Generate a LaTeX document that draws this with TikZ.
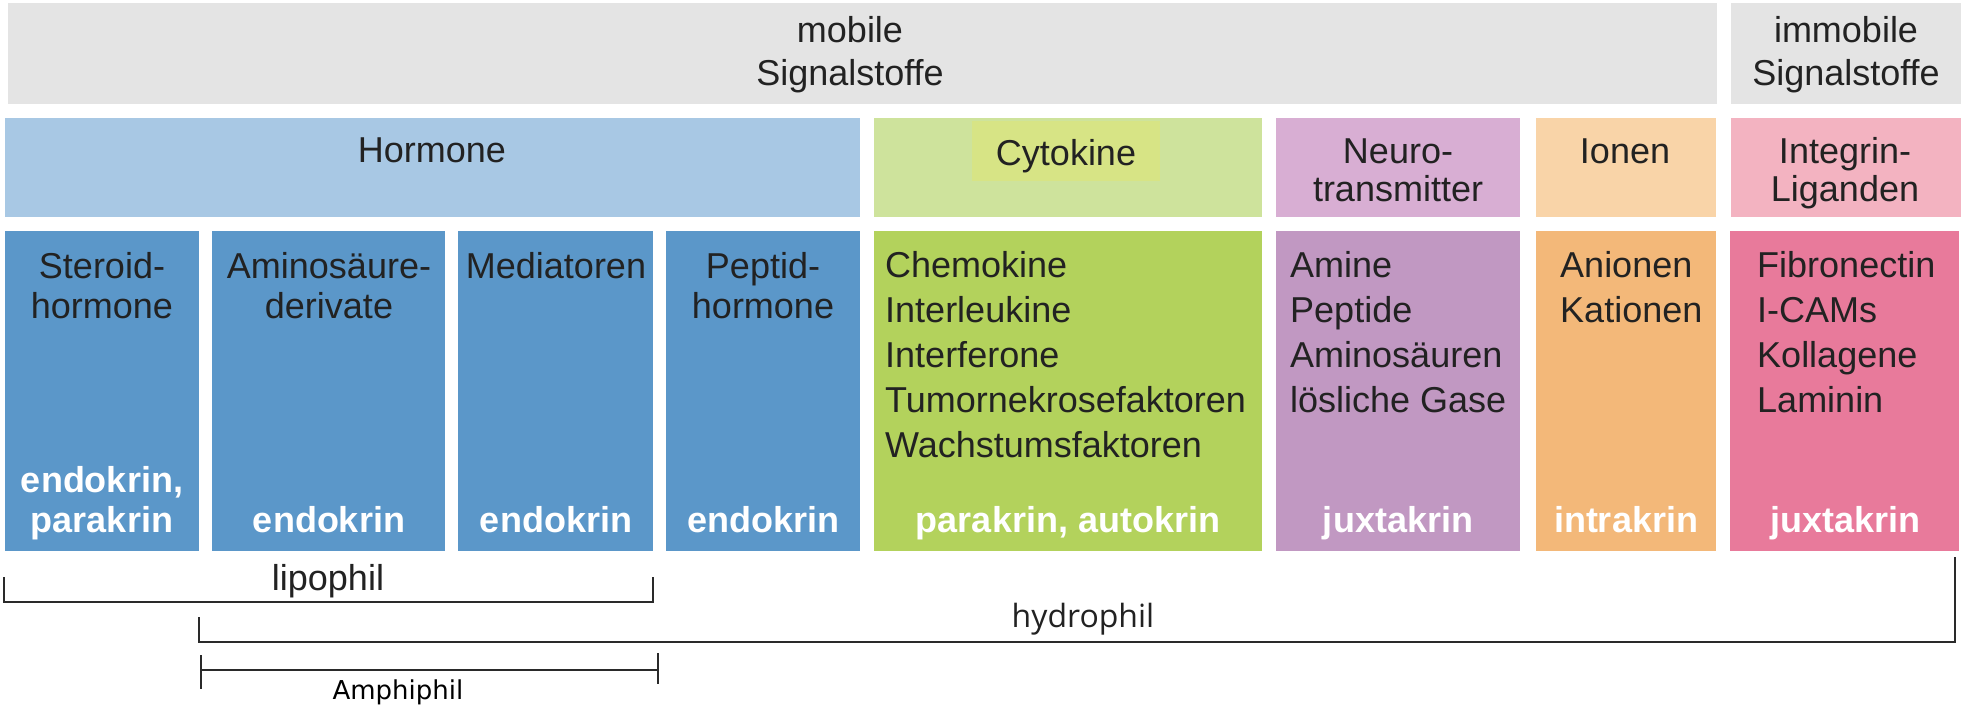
\documentclass[tikz,border=0pt]{standalone}
\usepackage{fontspec}
\setmainfont{Liberation Sans}
\newfontfamily\hydrofont{Open Sans}
\newfontfamily\handfont{DejaVu Sans}
\definecolor{cgray}{HTML}{E4E4E4}
\definecolor{cblueL}{HTML}{A8C8E4}
\definecolor{cblue}{HTML}{5B97C9}
\definecolor{cgreenL}{HTML}{CEE39C}
\definecolor{chigh}{HTML}{D7E485}
\definecolor{cgreen}{HTML}{B3D25C}
\definecolor{cpurpL}{HTML}{D8AED3}
\definecolor{cpurp}{HTML}{C198C2}
\definecolor{corgL}{HTML}{F9D4A8}
\definecolor{corg}{HTML}{F3B879}
\definecolor{cpinkL}{HTML}{F3B3C1}
\definecolor{cpink}{HTML}{E87A9B}
\definecolor{ctxt}{HTML}{222222}
\definecolor{cline}{HTML}{2A2A2A}
\newcommand\mkbox[6]{\node[boxs,fill=#2,minimum width=#5pt-#3pt,minimum height=#6pt-#4pt,anchor=north west] (#1) at (#3,#4) {};}
\begin{document}
\begin{tikzpicture}[x=1pt,y=-1pt,
  boxs/.style={draw=none,inner sep=0pt,outer sep=0pt,rectangle},
  txt/.style={inner sep=0pt,anchor=base,text=ctxt,font=\fontsize{36}{40}\selectfont},
  ltxt/.style={txt,anchor=base west},
  wtxt/.style={inner sep=0pt,anchor=base,text=white,font=\fontsize{36}{40}\selectfont\bfseries},
  brk/.style={draw=cline,line width=2.4pt}]
\useasboundingbox (0,0) rectangle (1961,706);
\fill[white] (0,0) rectangle (1961,706);
% row 1
\mkbox{mobile}{cgray}{8}{3}{1717}{104}
\mkbox{immobile}{cgray}{1731}{3}{1961}{104}
\node[txt] (t1a) at (850,43) {mobile};
\node[txt] (t1b) at (850,86) {Signalstoffe};
\node[txt] (t2a) at (1846,43) {immobile};
\node[txt] (t2b) at (1846,86) {Signalstoffe};
% row 2
\mkbox{hormone}{cblueL}{5}{118}{860}{217}
\mkbox{cytokine}{cgreenL}{874}{118}{1262}{217}
\mkbox{neuro}{cpurpL}{1276}{118}{1520}{217}
\mkbox{ionen}{corgL}{1536}{118}{1716}{217}
\mkbox{integrin}{cpinkL}{1731}{118}{1961}{217}
\mkbox{cythigh}{chigh}{972}{121}{1160}{181}
\node[txt] (h1) at (432,162) {Hormone};
\node[txt] (h2) at (1066,165) {Cytokine};
\node[txt] (h3a) at (1398,163) {Neuro-};
\node[txt] (h3b) at (1398,201) {transmitter};
\node[txt] (h4) at (1625,163) {Ionen};
\node[txt] (h5a) at (1845,163) {Integrin-};
\node[txt] (h5b) at (1845,201) {Liganden};
% row 3
\mkbox{steroid}{cblue}{5}{231}{199}{551}
\mkbox{amino}{cblue}{212}{231}{445}{551}
\mkbox{mediat}{cblue}{458}{231}{653}{551}
\mkbox{peptid}{cblue}{666}{231}{860}{551}
\mkbox{chemo}{cgreen}{874}{231}{1262}{551}
\mkbox{amine}{cpurp}{1276}{231}{1520}{551}
\mkbox{anion}{corg}{1536}{231}{1716}{551}
\mkbox{fibro}{cpink}{1730}{231}{1959}{551}
\node[txt] (s1) at (102,278) {Steroid-};
\node[txt] (s2) at (102,318) {hormone};
\node[txt] (a1) at (329,278) {Aminosäure-};
\node[txt] (a2) at (329,318) {derivate};
\node[txt] (m1) at (556,278) {Mediatoren};
\node[txt] (p1) at (763,278) {Peptid-};
\node[txt] (p2) at (763,318) {hormone};
\node[ltxt] (c1) at (885,277) {Chemokine};
\node[ltxt] (c2) at (885,322) {Interleukine};
\node[ltxt] (c3) at (885,367) {Interferone};
\node[ltxt] (c4) at (885,412) {Tumornekrosefaktoren};
\node[ltxt] (c5) at (885,457) {Wachstumsfaktoren};
\node[ltxt] (n1) at (1290,277) {Amine};
\node[ltxt] (n2) at (1290,322) {Peptide};
\node[ltxt] (n3) at (1290,367) {Aminosäuren};
\node[ltxt] (n4) at (1290,412) {lösliche Gase};
\node[ltxt] (i1) at (1560,277) {Anionen};
\node[ltxt] (i2) at (1560,322) {Kationen};
\node[ltxt] (f1) at (1757,277) {Fibronectin};
\node[ltxt] (f2) at (1757,322) {I-CAMs};
\node[ltxt] (f3) at (1757,367) {Kollagene};
\node[ltxt] (f4) at (1757,412) {Laminin};
\node[wtxt] (w1a) at (102,492) {endokrin,};
\node[wtxt] (w1b) at (102,532) {parakrin};
\node[wtxt] (w2) at (329,532) {endokrin};
\node[wtxt] (w3) at (556,532) {endokrin};
\node[wtxt] (w4) at (763,532) {endokrin};
\node[wtxt] (w5) at (1068,532) {parakrin, autokrin};
\node[wtxt] (w6) at (1398,532) {juxtakrin};
\node[wtxt] (w7) at (1626,532) {intrakrin};
\node[wtxt] (w8) at (1845,532) {juxtakrin};
% brackets
\coordinate (lipoA) at (4,577);
\coordinate (lipoB) at (653,577);
\draw[brk] (lipoA) |- (lipoB |- 0,602) -- (lipoB);
\node[txt] (lipo) at (328,590) {lipophil};
\coordinate (hydA) at (199,617);
\coordinate (hydB) at (1955,557);
\draw[brk] (hydA) |- (hydB |- 0,642) -- (hydB);
\node[txt,font=\hydrofont\fontsize{32}{36}\selectfont] (hydro) at (1083,627) {hydrophil};
\coordinate (amA) at (201,670);
\coordinate (amB) at (658,670);
\draw[brk] (amA) -- (amB);
\draw[brk] (201,655) -- (201,689);
\draw[brk] (658,653) -- (658,684);
\node[txt,text=black,font=\handfont\fontsize{26}{30}\selectfont] (amphi) at (398,699) {Amphiphil};
\end{tikzpicture}
\end{document}
